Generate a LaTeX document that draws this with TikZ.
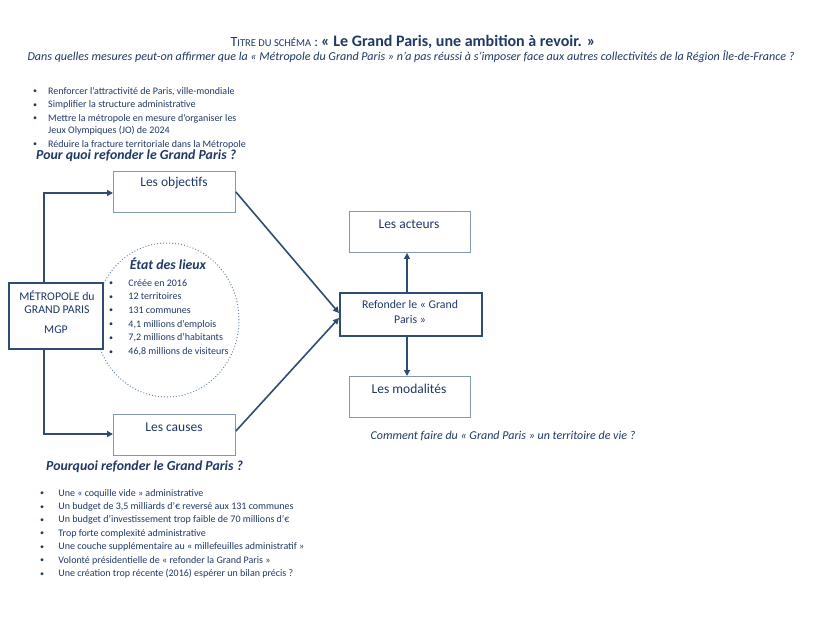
\documentclass[tikz,border=0pt]{standalone}
\usepackage{fontspec}
\setmainfont{Carlito}
\usetikzlibrary{arrows.meta}

\definecolor{navy}{HTML}{1F3864}
\definecolor{boxline}{HTML}{8298B2}
\definecolor{darkline}{HTML}{2E4D72}
\definecolor{dotline}{HTML}{6F8BAA}

\newcommand{\bul}[1][15pt]{\makebox[#1][l]{\raisebox{0.5pt}{\scalebox{0.8}{\textbullet}}}}

\tikzset{
  lightbox/.style={draw=boxline, line width=0.9pt, minimum width=122pt, minimum height=41pt,
    anchor=north west, inner sep=0pt},
  boxlabel/.style={text=navy, font=\fontsize{13.5}{15}\selectfont, inner sep=0pt},
  heavybox/.style={draw=darkline, line width=2pt, anchor=north west, inner sep=0pt},
  link/.style={draw=darkline, line width=1.6pt, -{Triangle[length=6pt,width=6pt]}},
  listtext/.style={text=navy, font=\fontsize{10}{13.5}\selectfont, anchor=north west, inner sep=0pt, align=left},
  question/.style={text=navy, font=\fontsize{13.8}{15}\selectfont\bfseries\itshape, anchor=west, inner sep=0pt}
}

\begin{document}
\begin{tikzpicture}[x=1pt, y=-1pt]
\useasboundingbox (0,0) rectangle (827,621);

% Title
\node[text=navy, inner sep=0pt] (title) at (413,42)
  {\fontsize{14}{16}\selectfont T\fontsize{10.5}{16}\selectfont ITRE DU SCHÉMA\fontsize{14}{16}\selectfont{} : \fontsize{16}{16}\selectfont\bfseries « Le Grand Paris, une ambition à revoir. »};
\node[text=navy, inner sep=0pt, font=\fontsize{12.05}{13}\selectfont\itshape] (subtitle) at (411,57)
  {Dans quelles mesures peut-on affirmer que la « Métropole du Grand Paris » n’a pas réussi à s’imposer face aux autres collectivités de la Région Île-de-France ?};

% Objectives list
\node[listtext] (goals) at (33,87) {%
  \bul Renforcer l’attractivité de Paris, ville-mondiale\\
  \bul Simplifier la structure administrative\\
  \bul Mettre la métropole en mesure d’organiser les\\[-1.5pt]
  \hspace*{15pt}Jeux Olympiques (JO) de 2024\\[0.5pt]
  \bul Réduire la fracture territoriale dans la Métropole};
\node[question] (whyup) at (36,156) {Pour quoi refonder le Grand Paris ?};

% Boxes on the left
\node[lightbox] (objectifs) at (113,171) {};
\node[boxlabel] at (174,183) {Les objectifs};
\node[lightbox] (causes) at (113,414) {};
\node[boxlabel] at (174,427) {Les causes};

% State of the place
\draw[dotline, line width=1pt, dotted] (167,320) ellipse (72pt and 77pt);
\node[text=navy, font=\fontsize{13.8}{15}\selectfont\bfseries\itshape, inner sep=0pt] (etat) at (168,264) {État des lieux};
\node[listtext, font=\fontsize{10}{13.7}\selectfont] (facts) at (109,279) {%
  \bul[17pt] Créée en 2016\\
  \bul[17pt] 12 territoires\\
  \bul[17pt] 131 communes\\
  \bul[17pt] 4,1 millions d’emplois\\
  \bul[17pt] 7,2 millions d’habitants\\
  \bul[17pt] 46,8 millions de visiteurs};

% Metropole box
\node[heavybox, fill=white, minimum width=94pt, minimum height=66pt] (mgp) at (8,282) {};
\node[text=navy, align=center, font=\fontsize{11.8}{13.5}\selectfont, inner sep=0pt] at (57,302) {MÉTROPOLE du\\GRAND PARIS};
\node[text=navy, font=\fontsize{11.8}{13}\selectfont, inner sep=0pt] at (56,330) {MGP};

\coordinate (upbend) at (44,193);
\coordinate (downbend) at (44,434);
\draw[link] (44,282) -- (upbend) -- (objectifs.west |- upbend);
\draw[link] (44,348) -- (downbend) -- (causes.west |- downbend);

% Refonder and right side
\node[heavybox, minimum width=142pt, minimum height=43pt] (refonder) at (339,292) {};
\node[text=navy, align=center, font=\fontsize{11.8}{15}\selectfont, inner sep=0pt] at (410,312) {Refonder le « Grand\\Paris »};
\node[lightbox, minimum width=121pt] (acteurs) at (349,211) {};
\node[boxlabel] at (409,224) {Les acteurs};
\node[lightbox, minimum width=121pt] (modalites) at (349,376) {};
\node[boxlabel] at (409,389) {Les modalités};

\draw[link] (407,292) -- (acteurs.south -| 407,0);
\draw[link] (407,335) -- (modalites.north -| 407,0);
\draw[link] (objectifs.east |- 0,192) -- (refonder.west |- 0,313);
\draw[link] (causes.east |- 0,431) -- (refonder.west |- 0,318);

\node[text=navy, font=\fontsize{12}{14}\selectfont\itshape, inner sep=0pt] (how) at (503,436) {Comment faire du « Grand Paris » un territoire de vie ?};

% Causes list
\node[question] (whydown) at (46,467) {Pourquoi refonder le Grand Paris ?};
\node[listtext, font=\fontsize{10}{13.4}\selectfont] (reasons) at (40,489) {%
  \bul[16pt] Une « coquille vide » administrative\\
  \bul[16pt] Un budget de 3,5 milliards d’€ reversé aux 131 communes\\
  \bul[16pt] Un budget d’investissement trop faible de 70 millions d’€\\
  \bul[16pt] Trop forte complexité administrative\\
  \bul[16pt] Une couche supplémentaire au « millefeuilles administratif »\\
  \bul[16pt] Volonté présidentielle de « refonder la Grand Paris »\\
  \bul[16pt] Une création trop récente (2016) espérer un bilan précis ?};

\end{tikzpicture}
\end{document}
